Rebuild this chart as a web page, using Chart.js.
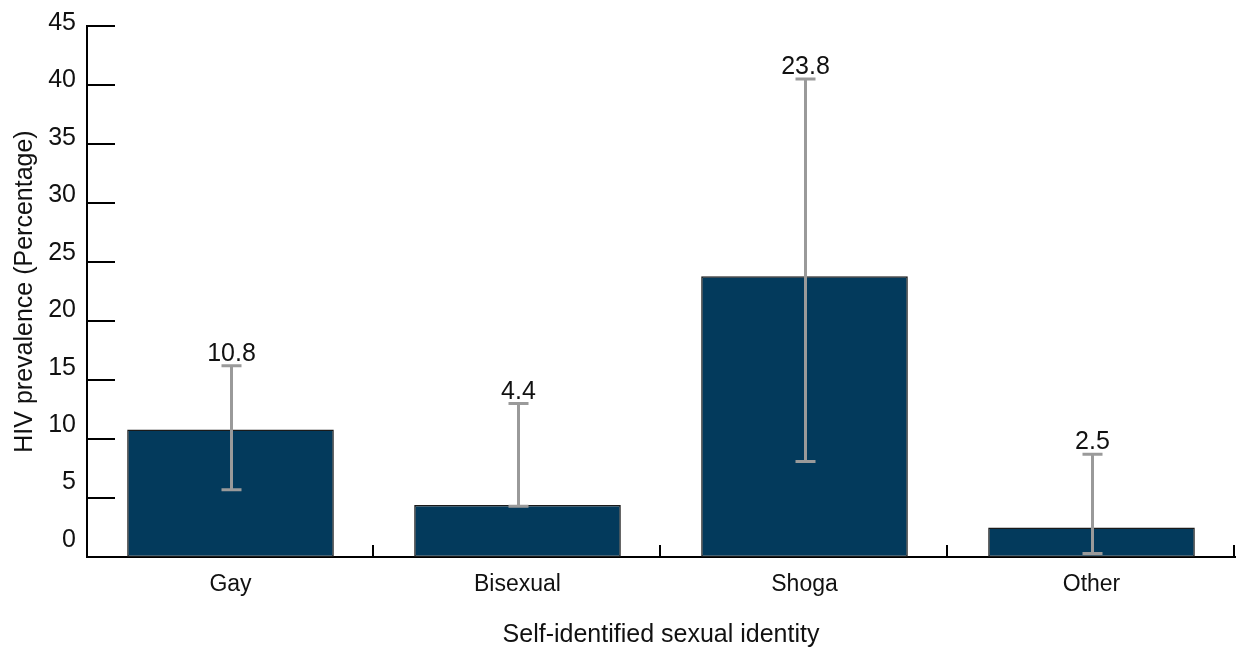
<!DOCTYPE html>
<html>
<head>
<meta charset="utf-8">
<script src="https://cdn.jsdelivr.net/npm/chart.js@4/dist/chart.umd.min.js"></script>
<style>
  html, body { margin: 0; padding: 0; background: #fff; }
  #wrap { width: 1238px; height: 652px; }
</style>
</head>
<body>
<div id="wrap"><canvas id="hiv_chart"></canvas></div>
<script>
const categories = ['Gay', 'Bisexual', 'Shoga', 'Other'];
const prevalence = [10.8, 4.4, 23.8, 2.5];
const ciLow = [5.7, 4.3, 8.1, 0.3];
const ciHigh = [16.2, 13.0, 40.5, 8.7];
const yTicks = [0, 5, 10, 15, 20, 25, 30, 35, 40, 45];

const FONT = '"Liberation Sans", Arial, sans-serif';

// inner tick marks, category dividers, error bars and value labels
const decorPlugin = {
    id: 'decor',
    afterDatasetsDraw(chart) {
        const ctx = chart.ctx;
        const x = chart.scales.x;
        const y = chart.scales.y;
        const area = chart.chartArea;
        const meta = chart.getDatasetMeta(0);
        const step = x.getPixelForValue(1) - x.getPixelForValue(0);

        ctx.save();
        ctx.strokeStyle = '#000';
        ctx.lineWidth = 2;
        yTicks.forEach(v => {
            const py = Math.round(y.getPixelForValue(v));
            ctx.beginPath();
            ctx.moveTo(area.left, py);
            ctx.lineTo(area.left + 28, py);
            ctx.stroke();
        });
        for (let i = 0; i < categories.length; i++) {
            const px = Math.round(x.getPixelForValue(i) + step / 2) - 1;
            ctx.beginPath();
            ctx.moveTo(px, area.bottom);
            ctx.lineTo(px, area.bottom - 12);
            ctx.stroke();
        }

        ctx.strokeStyle = '#9a9a9a';
        ctx.lineWidth = 3;
        meta.data.forEach((bar, i) => {
            const cx = Math.round(bar.x) + 0.5;
            const top = y.getPixelForValue(ciHigh[i]);
            const bot = y.getPixelForValue(ciLow[i]);
            ctx.beginPath();
            ctx.moveTo(cx, top);
            ctx.lineTo(cx, bot);
            ctx.moveTo(cx - 10, top);
            ctx.lineTo(cx + 10, top);
            ctx.moveTo(cx - 10, bot);
            ctx.lineTo(cx + 10, bot);
            ctx.stroke();

            ctx.fillStyle = '#111';
            ctx.font = '25px ' + FONT;
            ctx.textAlign = 'center';
            ctx.textBaseline = 'alphabetic';
            ctx.fillText(prevalence[i].toFixed(1), cx, top - 5);
        });
        ctx.restore();
    }
};

const ctx = document.getElementById('hiv_chart').getContext('2d');
const hivChart = new Chart(ctx, {
    type: 'bar',
    data: {
        labels: categories,
        datasets: [{
            label: 'HIV prevalence',
            data: prevalence,
            xAxisID: 'x',
            yAxisID: 'y',
            backgroundColor: '#033a5c',
            borderColor: '#1a1a1a',
            borderWidth: 1.5,
            borderSkipped: false,
            barPercentage: 0.72,
            categoryPercentage: 1
        }]
    },
    options: {
        responsive: true,
        maintainAspectRatio: false,
        animation: false,
        events: [],
        layout: { padding: { top: 25, right: 3, left: 0, bottom: 0 } },
        plugins: {
            legend: { display: false },
            tooltip: { enabled: false }
        },
        scales: {
            y: {
                type: 'linear',
                position: 'left',
                weight: 0,
                min: 0,
                max: 45,
                afterFit: scale => { scale.width = 0; },
                grid: { display: false, drawTicks: false },
                border: { display: true, color: '#000', width: 2 },
                ticks: { display: false }
            },
            // label-only axis: tick labels sit slightly above the tick marks
            yLbl: {
                type: 'linear',
                position: 'left',
                weight: 1,
                min: -1.48,
                max: 44.74,
                afterBuildTicks: scale => { scale.ticks = yTicks.map(v => ({ value: v })); },
                afterFit: scale => { scale.width = 87; },
                grid: { display: false, drawTicks: false },
                border: { display: false },
                ticks: {
                    color: '#111',
                    font: { family: FONT, size: 25 },
                    padding: 11
                },
                title: {
                    display: true,
                    text: 'HIV prevalence (Percentage)',
                    color: '#111',
                    font: { family: FONT, size: 25 },
                    padding: { top: 10, bottom: 0 }
                }
            },
            x: {
                afterFit: scale => { scale.height = 95; },
                grid: { display: false, drawTicks: false },
                border: { display: true, color: '#000', width: 2 },
                ticks: {
                    color: '#111',
                    font: { family: FONT, size: 23 },
                    padding: 14
                },
                title: {
                    display: true,
                    text: 'Self-identified sexual identity',
                    color: '#111',
                    font: { family: FONT, size: 25 },
                    padding: { top: 4, bottom: 2 }
                }
            }
        }
    },
    plugins: [decorPlugin]
});
</script>
</body>
</html>
